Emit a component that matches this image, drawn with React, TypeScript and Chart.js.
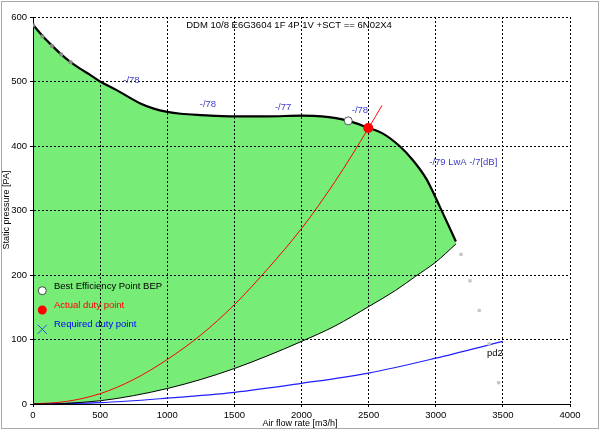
import React, { useEffect, useRef } from "react";
import { Chart, registerables } from "chart.js";

Chart.register(...registerables);

const TITLE = "DDM 10/8 E6G3604 1F 4P 1V +SCT == 6N02X4";
const X_TITLE = "Air flow rate [m3/h]";
const Y_TITLE = "Static pressure [PA]";

const xTicksMax = 4000;
const yTicksMax = 600;

// Fan curve (upper boundary of operating area)
const fanFlow = [0, 70, 140, 210, 280, 350, 420, 500, 620, 800, 900, 1000, 1100, 1250, 1500, 1750, 2000, 2150, 2350, 2500, 2600, 2730, 2830, 2930, 3030, 3150];
const fanPressure = [588, 571, 556, 542, 530, 520, 511, 500, 487, 466, 458, 453, 450, 448, 446, 446, 447, 446, 439, 428, 420, 400, 378, 349, 306, 252];

// Minimum curve (lower boundary of operating area)
const minFlow = [0, 150, 320, 500, 750, 1000, 1250, 1500, 1750, 2000, 2250, 2500, 2700, 2850, 3000, 3150];
const minPressure = [0, 0, 2, 5, 13, 24, 38, 55, 75, 97, 121, 151, 176, 198, 220, 248];

// System curve through actual duty point (red)
const sysFlow = [0, 250, 500, 750, 1000, 1250, 1500, 1750, 2000, 2250, 2500, 2600];
const sysPressure = [0, 4, 16, 38, 69, 107, 154, 210, 272, 345, 428, 463];

// Required system curve pd2 (blue)
const reqFlow = [0, 500, 1000, 1500, 2000, 2500, 3000, 3500];
const reqPressure = [0, 2, 9, 18, 32, 48, 71, 97];

// Measurement points
const measLeftFlow = [0, 70, 140, 210, 280];
const measLeftPressure = [587, 570, 555, 542, 530];
const measRightFlow = [3188, 3255, 3324, 3397, 3469];
const measRightPressure = [232, 191, 145, 93, 33];

const bepPoint = [2348, 439];
const dutyPoint = [2497, 428];

// Noise labels
const noiseLabels = ["-/78", "-/78", "-/77", "-/78", "-/79 LwA -/7[dB]"];
const noiseFlow = [733, 1303, 1863, 2435, 3205];
const noisePressure = [501, 465, 460, 456, 375];

const pd2Label = "pd2";
const pd2Pos = [3441, 78];

const legendNames = ["Best Efficiency Point BEP", "Actual duty point", "Required duty point"];
const legendColors = ["#000000", "#ff0000", "#0000ff"];

const FONT = '"Liberation Sans", Arial, sans-serif';

const pts = (xs: number[], ys: number[]) => xs.map((x, i) => ({ x, y: ys[i] }));

const annotPlugin = {
  id: "annot",
  afterDatasetsDraw(chart: any) {
    const { ctx } = chart;
    const xs = chart.scales.x;
    const ys = chart.scales.y;
    ctx.save();
    // noise labels
    ctx.font = `9.5px ${FONT}`;
    ctx.fillStyle = "#3c3cc8";
    ctx.textAlign = "center";
    ctx.textBaseline = "middle";
    noiseLabels.forEach((t, i) => {
      ctx.fillText(t, xs.getPixelForValue(noiseFlow[i]), ys.getPixelForValue(noisePressure[i]));
    });
    // pd2
    ctx.fillStyle = "#000";
    ctx.fillText(pd2Label, xs.getPixelForValue(pd2Pos[0]), ys.getPixelForValue(pd2Pos[1]));
    // title
    ctx.font = `9.5px ${FONT}`;
    ctx.fillStyle = "#000";
    ctx.fillText(TITLE, 289, 25);
    // legend
    const lx = 42.3;
    const ly = [290.7, 310, 329.3];
    ctx.beginPath();
    ctx.arc(lx, ly[0], 4, 0, Math.PI * 2);
    ctx.fillStyle = "#fff";
    ctx.fill();
    ctx.strokeStyle = "#444";
    ctx.lineWidth = 1;
    ctx.stroke();
    ctx.beginPath();
    ctx.arc(lx, ly[1], 4.5, 0, Math.PI * 2);
    ctx.fillStyle = "#ff0000";
    ctx.fill();
    ctx.beginPath();
    ctx.strokeStyle = "#2a4ee0";
    ctx.moveTo(lx - 4.5, ly[2] - 4.5);
    ctx.lineTo(lx + 4.5, ly[2] + 4.5);
    ctx.moveTo(lx + 4.5, ly[2] - 4.5);
    ctx.lineTo(lx - 4.5, ly[2] + 4.5);
    ctx.stroke();
    ctx.textAlign = "left";
    const ty = [286, 305, 324];
    legendNames.forEach((n, i) => {
      ctx.fillStyle = legendColors[i];
      ctx.fillText(n, 54, ty[i]);
    });
    // axis titles
    ctx.font = `9px ${FONT}`;
    ctx.fillStyle = "#000";
    ctx.textAlign = "center";
    ctx.fillText(X_TITLE, 300, 424);
    ctx.save();
    ctx.translate(6.5, 210);
    ctx.rotate(-Math.PI / 2);
    ctx.fillText(Y_TITLE, 0, 0);
    ctx.restore();
    // outer frame
    ctx.strokeStyle = "#a8a8a8";
    ctx.lineWidth = 1;
    ctx.strokeRect(1.5, 1.5, 597, 427);
    ctx.restore();
  },
};

export default function App() {
  const ref = useRef<HTMLCanvasElement | null>(null);
  useEffect(() => {
    document.body.style.margin = "0";
    if (!ref.current) return;
    const chart = new Chart(ref.current, {
      type: "line",
      data: {
        datasets: [
          {
            type: "scatter",
            data: [{ x: dutyPoint[0], y: dutyPoint[1] }],
            pointRadius: 5,
            pointBackgroundColor: "#ff0000",
            pointBorderColor: "#ff0000",
            pointBorderWidth: 0,
            showLine: false,
          } as any,
          {
            type: "scatter",
            data: [{ x: bepPoint[0], y: bepPoint[1] }],
            pointRadius: 4,
            pointBackgroundColor: "#ffffff",
            pointBorderColor: "#555555",
            pointBorderWidth: 1,
            showLine: false,
          },
          {
            type: "scatter",
            data: pts(measLeftFlow, measLeftPressure),
            pointStyle: "rect",
            pointRadius: 2.6,
            pointBackgroundColor: "#8a8a8a",
            pointBorderWidth: 0,
            showLine: false,
          },
          {
            type: "scatter",
            data: pts(measRightFlow, measRightPressure),
            pointStyle: "rect",
            pointRadius: 2.3,
            pointBackgroundColor: "#c4c4c4",
            pointBorderWidth: 0,
            showLine: false,
          },
          {
            data: pts(fanFlow, fanPressure),
            borderColor: "#000000",
            borderWidth: 2.2,
            pointRadius: 0,
            cubicInterpolationMode: "monotone",
            fill: 5,
            backgroundColor: "#77ec77",
          },
          {
            data: pts(minFlow, minPressure),
            borderColor: "#000000",
            borderWidth: 1,
            pointRadius: 0,
            cubicInterpolationMode: "monotone",
            fill: false,
          },
          {
            data: pts(sysFlow, sysPressure),
            borderColor: "#ff0000",
            borderWidth: 1,
            pointRadius: 0,
            cubicInterpolationMode: "monotone",
            fill: false,
          },
          {
            data: pts(reqFlow, reqPressure),
            borderColor: "#2020ff",
            borderWidth: 1.2,
            pointRadius: 0,
            cubicInterpolationMode: "monotone",
            fill: false,
          },
        ],
      },
      options: {
        animation: false,
        responsive: false,
        devicePixelRatio: 1,
        layout: { padding: { left: 0, top: 17, right: 30, bottom: 0 } },
        plugins: {
          legend: { display: false },
          tooltip: { enabled: false },
          title: { display: false },
          filler: { drawTime: "beforeDraw" },
        },
        scales: {
          x: {
            type: "linear",
            min: 0,
            max: xTicksMax,
            afterFit: (s: any) => {
              s.height = 26;
            },
            ticks: {
              stepSize: 500,
              color: "#000",
              font: { family: FONT, size: 9.5 },
              padding: 3,
              maxRotation: 0,
              callback: (v: any) => String(v),
            },
            grid: {
              color: "#000",
              lineWidth: 1,
              tickLength: 3,
              tickColor: "#000",
              tickWidth: 1,
              tickBorderDash: [],
            } as any,
            border: { display: true, color: "#000", width: 1, dash: [2, 2] },
          },
          y: {
            type: "linear",
            min: 0,
            max: yTicksMax,
            afterFit: (s: any) => {
              s.width = 33;
            },
            ticks: {
              stepSize: 100,
              color: "#000",
              font: { family: FONT, size: 9.5 },
              padding: 3,
              callback: (v: any) => String(v),
            },
            grid: {
              color: "#000",
              lineWidth: 1,
              tickLength: 3,
              tickColor: "#000",
              tickWidth: 1,
              tickBorderDash: [],
            } as any,
            border: { display: true, color: "#000", width: 1, dash: [2, 2] },
          },
        },
      },
      plugins: [annotPlugin],
    });
    return () => chart.destroy();
  }, []);
  return <canvas ref={ref} width={600} height={430} style={{ display: "block", width: 600, height: 430 }} />;
}
